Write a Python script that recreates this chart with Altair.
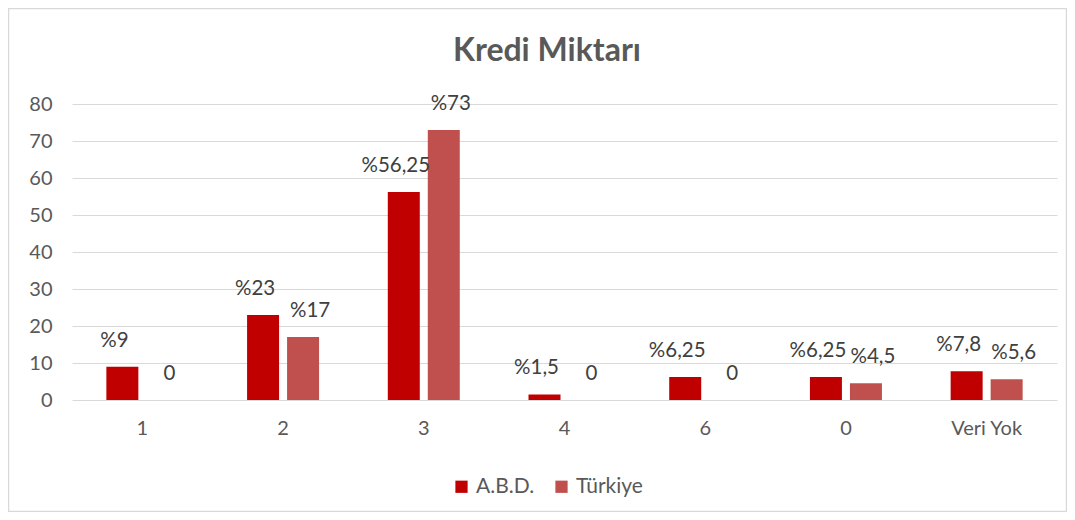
import altair as alt
import pandas as pd

categories = ["1", "2", "3", "4", "6", "0", "Veri Yok"]
series = ["A.B.D.", "Türkiye"]
abd_values = [9, 23, 56.25, 1.5, 6.25, 6.25, 7.8]
tr_values = [0, 17, 73, 0, 0, 4.5, 5.6]
abd_labels = ["%9", "%23", "%56,25", "%1,5", "%6,25", "%6,25", "%7,8"]
tr_labels = ["0", "%17", "%73", "0", "0", "%4,5", "%5,6"]
y_ticks = [0, 10, 20, 30, 40, 50, 60, 70, 80]
colors = ["#C00000", "#C0504D"]
title_text = "Kredi Miktarı"

rows = []
for c, v, l in zip(categories, abd_values, abd_labels):
    rows.append({"cat": c, "series": series[0], "value": v, "label": l})
for c, v, l in zip(categories, tr_values, tr_labels):
    rows.append({"cat": c, "series": series[1], "value": v, "label": l})
df = pd.DataFrame(rows)

W, H = 985, 296
FONT = "Lato"
TXT = "#595959"

x = alt.X("cat:N", sort=categories,
          scale=alt.Scale(paddingInner=0, paddingOuter=0),
          axis=alt.Axis(title=None, labelAngle=0, domain=False, ticks=False,
                        labelPadding=18, labelFontSize=20, labelColor=TXT,
                        labelFont=FONT, grid=False))
xo = alt.XOffset("series:N", sort=series,
                 scale=alt.Scale(domain=series, paddingInner=0.2, paddingOuter=0.859))
y = alt.Y("value:Q", scale=alt.Scale(domain=[0, 80], nice=False),
          axis=alt.Axis(values=y_ticks, title=None, domain=False, ticks=False,
                        labelPadding=20, grid=True, gridColor="#d9d9d9",
                        gridWidth=1.2, labelFontSize=20, labelColor=TXT,
                        labelFont=FONT))
color = alt.Color("series:N", sort=series,
                  scale=alt.Scale(domain=series, range=colors),
                  legend=alt.Legend(title=None, orient="none", legendX=379, legendY=372,
                                    direction="horizontal", symbolType="square",
                                    symbolSize=150, symbolStrokeWidth=0,
                                    labelFontSize=21, labelColor=TXT, labelFont=FONT,
                                    columnPadding=16, labelOffset=4))

base = alt.Chart(df)
bars = base.mark_bar().encode(x=x, xOffset=xo, y=y, color=color)

text_abd = base.mark_text(dy=-26, dx=-8, baseline="middle", fontSize=20.5, font=FONT,
                          color="#404040").encode(
    x=x, xOffset=xo, y=y, text="label:N").transform_filter(alt.datum.series == series[0])
text_tr = base.mark_text(dy=-26, dx=7, baseline="middle", fontSize=20.5, font=FONT,
                         color="#404040").encode(
    x=x, xOffset=xo, y=y, text="label:N").transform_filter(alt.datum.series == series[1])

one = pd.DataFrame({"k": [0]})
border = alt.Chart(one).mark_rect(
    fill="transparent", stroke="#d9d9d9", strokeWidth=1.5).encode(
    x=alt.value(-63.5), x2=alt.value(994.5), y=alt.value(-95.5), y2=alt.value(407.5))

title = alt.Chart(one).mark_text(
    text=title_text, fontSize=32, font=FONT, fontWeight="bold", color=TXT,
    align="center", baseline="middle").encode(x=alt.value(475), y=alt.value(-53))

chart = alt.layer(border, bars, text_abd, text_tr, title).properties(
    width=W, height=H,
    padding={"left": 64, "top": 96, "right": 10, "bottom": 112},
    autosize=alt.AutoSizeParams(type="none"),
).configure_view(stroke="transparent")

chart.save("out.html", embed_options={"renderer": "svg", "actions": False})
